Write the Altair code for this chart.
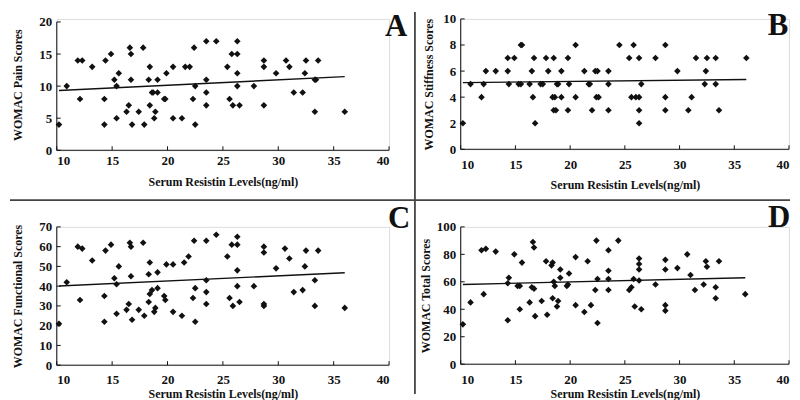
import altair as alt
import pandas as pd

# ---------------- data ----------------
x_ticks = [10, 15, 20, 25, 30, 35, 40]
x_title = "Serum Resistin Levels(ng/ml)"

a_x = [10.2, 10.9, 11.9, 12.3, 12.1, 13.2, 14.4, 14.3, 14.3, 14.9, 15.2, 15.4, 15.4, 15.6, 16.3, 16.5,
       16.6, 16.7, 16.7, 16.8, 17.4, 17.8, 17.9, 18.3, 18.4, 18.4, 18.6, 18.7, 18.8, 18.9, 19.1, 19.1,
       19.7, 19.8, 19.9, 20.5, 20.5, 21.3, 21.6, 22.0, 22.3, 22.4, 22.5, 22.5, 23.5, 23.5, 23.5, 23.5,
       24.4, 25.4, 25.6, 25.8, 25.9, 26.3, 26.3, 26.3, 26.3, 26.5, 27.8, 28.7, 28.7, 28.7, 29.8, 30.7,
       31.0, 31.4, 32.2, 32.4, 32.5, 33.3, 33.4, 33.3, 33.6, 36.0]
a_y = [4, 10, 14, 14, 8, 13, 14, 8, 4, 15, 11, 10, 5, 12, 6, 7,
       16, 15, 11, 4, 6, 16, 4, 11, 13, 7, 9, 9, 5, 6, 11, 9,
       8, 8, 12, 13, 5, 5, 13, 13, 8, 16, 10, 4, 17, 11, 9, 7,
       17, 13, 8, 15, 7, 17, 15, 12, 10, 7, 10, 14, 13, 7, 12, 14,
       13, 9, 9, 12, 14, 11, 11, 6, 14, 6]

b_x = [10.2, 10.9, 11.9, 12.1, 12.3, 13.2, 14.3, 14.3, 14.4, 14.9, 15.3, 15.5, 15.5, 15.6, 16.3, 16.5,
       16.6, 16.7, 16.8, 17.3, 17.5, 17.8, 18.0, 18.4, 18.5, 18.6, 18.5, 18.7, 18.8, 18.9, 19.2, 19.2,
       19.8, 19.8, 19.9, 20.5, 20.5, 21.3, 21.7, 21.8, 22.0, 22.3, 22.5, 22.4, 22.6, 23.5, 23.5, 23.5,
       24.5, 25.4, 25.8, 25.6, 26.0, 26.3, 26.3, 26.3, 26.3, 26.5, 27.8, 28.7, 28.7, 28.7, 29.8, 30.8,
       31.1, 31.5, 32.3, 32.4, 32.5, 33.3, 33.3, 33.6, 36.1]
b_y = [2, 5, 4, 5, 6, 6, 7, 6, 5, 7, 5, 5, 8, 8, 5, 6,
       4, 7, 2, 5, 5, 7, 6, 4, 7, 4, 3, 3, 5, 5, 4, 6,
       7, 3, 5, 8, 4, 6, 5, 5, 3, 6, 6, 4, 4, 6, 5, 3,
       8, 7, 8, 4, 4, 4, 7, 3, 2, 5, 7, 8, 4, 3, 6, 3,
       4, 7, 5, 6, 7, 5, 7, 3, 7]

c_x = [10.2, 10.9, 11.9, 12.3, 12.1, 13.2, 14.4, 14.3, 14.3, 14.9, 15.2, 15.4, 15.4, 15.6, 16.3, 16.5,
       16.6, 16.7, 16.7, 16.8, 17.4, 17.8, 17.9, 18.3, 18.4, 18.3, 18.4, 18.6, 18.8, 18.9, 19.1, 19.1,
       19.7, 19.8, 19.9, 20.5, 20.5, 21.3, 21.5, 21.9, 22.3, 22.4, 22.5, 22.5, 23.5, 23.5, 23.5, 23.5,
       24.4, 25.4, 25.6, 25.8, 25.9, 26.3, 26.3, 26.3, 26.3, 26.5, 27.8, 28.7, 28.7, 28.7, 28.7, 29.8,
       30.6, 31.0, 31.4, 32.2, 32.4, 32.5, 33.3, 33.3, 33.6, 36.0]
c_y = [21, 42, 60, 59, 33, 53, 58, 35, 22, 61, 44, 41, 26, 50, 28, 31,
       62, 60, 45, 23, 28, 62, 25, 46, 52, 32, 36, 38, 27, 29, 39, 47,
       35, 33, 51, 51, 27, 25, 52, 55, 34, 63, 39, 22, 63, 43, 37, 31,
       66, 55, 34, 61, 30, 65, 61, 48, 40, 32, 40, 60, 57, 31, 30, 49,
       59, 54, 37, 38, 50, 58, 43, 30, 58, 29]

d_x = [10.2, 10.9, 11.9, 12.3, 12.1, 13.2, 14.4, 14.3, 14.3, 14.9, 15.2, 15.4, 15.4, 15.6, 16.3, 16.5,
       16.6, 16.7, 16.7, 16.8, 17.4, 17.8, 17.9, 18.3, 18.4, 18.4, 18.5, 18.6, 18.8, 18.9, 19.1, 19.1,
       19.7, 19.8, 19.9, 20.5, 20.5, 21.3, 21.6, 21.9, 22.3, 22.4, 22.5, 22.5, 23.5, 23.5, 23.5, 23.5,
       24.4, 25.4, 25.6, 25.8, 25.9, 26.3, 26.3, 26.3, 26.3, 26.5, 27.8, 28.7, 28.7, 28.7, 28.7, 29.8,
       30.7, 31.0, 31.4, 32.2, 32.4, 32.5, 33.3, 33.3, 33.6, 36.0]
d_y = [29, 45, 83, 84, 51, 82, 63, 59, 32, 80, 57, 57, 40, 74, 45, 56,
       89, 85, 55, 35, 46, 75, 36, 72, 74, 48, 60, 57, 42, 46, 63, 69,
       57, 58, 66, 78, 43, 38, 75, 43, 54, 90, 62, 30, 83, 68, 62, 54,
       90, 54, 56, 62, 42, 77, 73, 69, 61, 40, 58, 76, 69, 43, 39, 70,
       80, 65, 54, 58, 75, 71, 56, 48, 75, 51]

FONT = "Liberation Serif"
INK = "#111111"


def make_axis(values, title, lpad, tpad):
    return alt.Axis(values=values, title=title, domain=False, ticks=False, grid=False,
                    labelPadding=lpad, titlePadding=tpad,
                    labelFont=FONT, labelFontSize=13, labelFontWeight="bold", labelColor=INK,
                    titleFont=FONT, titleFontSize=12, titleFontWeight="bold", titleColor=INK)


def panel(xs, ys, ydom, yticks, ytitle, letter, W, H, letter_xy,
          lpad_x, tpad_x, lpad_y, tpad_y, dividers):
    df = pd.DataFrame({"x": xs, "y": ys})
    ax_x = make_axis(x_ticks, x_title, lpad_x, tpad_x)
    ax_y = make_axis(yticks, ytitle, lpad_y, tpad_y)
    sx = alt.Scale(domain=[10, 40], nice=False, zero=False)
    sy = alt.Scale(domain=ydom, nice=False, zero=False)

    pts = alt.Chart(df).mark_point(shape="diamond", filled=True, size=44,
                                   color=INK, opacity=1).encode(
        x=alt.X("x:Q", scale=sx, axis=ax_x),
        y=alt.Y("y:Q", scale=sy, axis=ax_y),
    )
    line = alt.Chart(df).transform_regression("x", "y").mark_line(
        color=INK, strokeWidth=1.4).encode(
        x=alt.X("x:Q", scale=sx, axis=ax_x), y=alt.Y("y:Q", scale=sy, axis=ax_y))

    # axis lines (from first to last tick) and inward ticks
    xdom = alt.Chart(pd.DataFrame({"x": [x_ticks[0]], "x1": [x_ticks[-1]]})).mark_rule(
        color=INK, strokeWidth=1).encode(
        x=alt.X("x:Q", scale=sx, axis=ax_x), x2="x1:Q", y=alt.value(H))
    ydomr = alt.Chart(pd.DataFrame({"y": [yticks[0]], "y1": [yticks[-1]]})).mark_rule(
        color=INK, strokeWidth=1).encode(
        y=alt.Y("y:Q", scale=sy, axis=ax_y), y2="y1:Q", x=alt.value(0))
    xt = alt.Chart(pd.DataFrame({"x": x_ticks})).mark_rule(color=INK, strokeWidth=1).encode(
        x=alt.X("x:Q", scale=sx, axis=ax_x), y=alt.value(H), y2=alt.value(H - 4))
    yt = alt.Chart(pd.DataFrame({"y": yticks})).mark_rule(color=INK, strokeWidth=1).encode(
        y=alt.Y("y:Q", scale=sy, axis=ax_y), x=alt.value(0), x2=alt.value(4))

    lab = alt.Chart(pd.DataFrame({"l": [letter]})).mark_text(
        font=FONT, fontSize=31, fontWeight="bold", color=INK, align="center",
        baseline="alphabetic").encode(text="l:N", x=alt.value(letter_xy[0]),
                                      y=alt.value(letter_xy[1]))

    layers = [pts, line, xdom, ydomr, xt, yt, lab]
    for (x1, x2, y1, y2) in dividers:
        layers.append(alt.Chart(pd.DataFrame({"d": [0]})).mark_rule(
            color="#444444", strokeWidth=1.8).encode(
            x=alt.value(x1), x2=alt.value(x2), y=alt.value(y1), y2=alt.value(y2)))
    return alt.layer(*layers).properties(width=W, height=H)


# panel A: plot at page x 55..389, y 15..147 (y=20 at 18)
pA = panel(a_x, a_y, [0, 20.47], [0, 5, 10, 15, 20], "WOMAC Pain Scores", "A",
           334, 132, (341, 17), 4, 9, 5, 14,
           [(-47, 360, 182, 182), (360, 360, -7, 182)])
# panel B: page x 461..791, y 15..146
pB = panel(b_x, b_y, [0, 10], [0, 2, 4, 6, 8, 10], "WOMAC Stiffness Scores", "B",
           330, 131, (319, 16), 9, 8, 5, 7,
           [(-46, 331, 182, 182)])
# panel C: page x 55..389, y 224..363
pC = panel(c_x, c_y, [0, 70], [0, 10, 20, 30, 40, 50, 60, 70], "WOMAC Functional Scores", "C",
           334, 139, (344, 1), 8, 2, 5, 14,
           [(360, 360, -27, 168)])
# panel D: page x 461..791, y 224..362
pD = panel(d_x, d_y, [0, 100], [0, 20, 40, 60, 80, 100], "WOMAC Total Scores", "D",
           330, 138, (320, 0), 9, 2, 5, 4,
           [])

chart = alt.concat(pA, pB, pC, pD, columns=2, bounds="flush", align="each",
                   spacing=alt.RowColnumber(row=77, column=72)).properties(
    padding=0
).configure_view(strokeWidth=0).configure(background="white")

chart.save("out.html", embed_options={"renderer": "svg", "actions": False})
